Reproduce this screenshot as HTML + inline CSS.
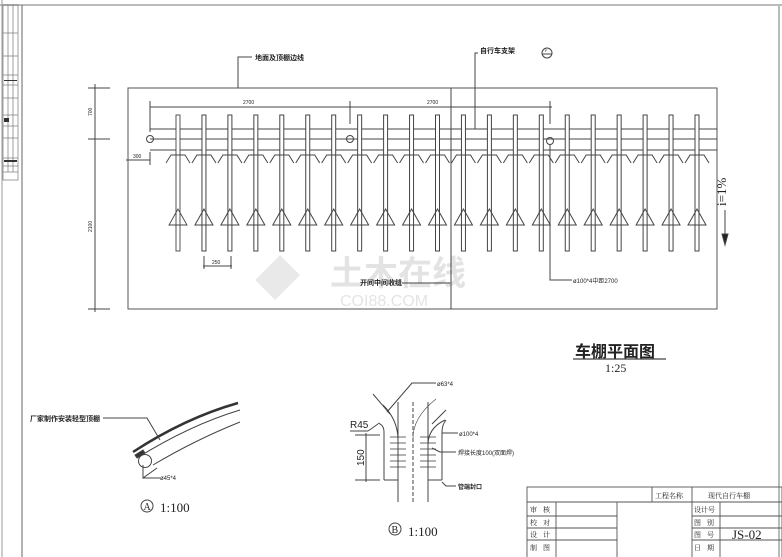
<!DOCTYPE html>
<html><head><meta charset="utf-8"><style>
html,body{margin:0;padding:0;background:#fff}
svg{display:block}
text{font-family:"Liberation Serif","Noto Serif CJK SC","Noto Sans CJK SC",serif;fill:#222}
.s{font-family:"Liberation Sans","Noto Sans CJK SC",sans-serif}
</style></head><body>
<svg width="782" height="557" viewBox="0 0 782 557" xmlns="http://www.w3.org/2000/svg" stroke="#444" stroke-width="1" fill="none">
<!-- outer frame -->
<line x1="0" y1="5" x2="782" y2="5" stroke="#bbb" stroke-width="2"/>
<line x1="22" y1="5" x2="22" y2="557" stroke="#666"/>
<line x1="779" y1="5" x2="779" y2="557" stroke="#bbb" stroke-width="2"/>
<line x1="2" y1="0" x2="2" y2="557" stroke="#999"/>
<!-- left strip -->
<g stroke="#777" stroke-width="0.7">
<rect x="3" y="5" width="15" height="175"/>
<line x1="8" y1="5" x2="8" y2="172"/><line x1="13" y1="5" x2="13" y2="172"/>
<line x1="3" y1="33" x2="18" y2="33"/><line x1="3" y1="56" x2="18" y2="56"/>
<line x1="3" y1="75" x2="18" y2="75"/><line x1="3" y1="85" x2="18" y2="85"/>
<line x1="3" y1="98" x2="18" y2="98"/><line x1="3" y1="115" x2="18" y2="115"/>
<line x1="3" y1="126" x2="18" y2="126"/><line x1="3" y1="138" x2="18" y2="138"/>
<line x1="3" y1="158" x2="18" y2="158"/><line x1="3" y1="166" x2="18" y2="166"/>
<line x1="3" y1="172" x2="18" y2="172"/>
</g>
<g fill="#333" stroke="none"><rect x="4" y="118" width="5" height="4"/><rect x="4" y="160" width="13" height="2"/><rect x="4" y="80" width="13" height="1"/></g>

<!-- plan frame -->
<rect x="128" y="88" width="589" height="221" stroke="#555"/>
<line x1="451" y1="88" x2="451" y2="309"/>
<!-- left dims -->
<line x1="95" y1="84" x2="95" y2="312"/>
<line x1="88" y1="88" x2="110" y2="88"/><line x1="88" y1="139" x2="110" y2="139"/><line x1="88" y1="309" x2="110" y2="309"/>
<text x="92" y="116" font-size="5" transform="rotate(-90 92 116)" class="s" stroke="none">700</text>
<text x="92" y="232" font-size="5" transform="rotate(-90 92 232)" class="s" stroke="none">2100</text>
<!-- 300 dim -->
<line x1="126" y1="160" x2="150" y2="160"/><line x1="150" y1="152" x2="150" y2="165"/>
<text x="133" y="158" font-size="5" class="s" stroke="none">300</text>
<!-- top dim -->
<line x1="150" y1="107" x2="552" y2="107"/>
<line x1="150" y1="101" x2="150" y2="132"/><line x1="350" y1="101" x2="350" y2="124"/><line x1="550" y1="101" x2="550" y2="124"/>
<text x="243" y="104" font-size="5" class="s" stroke="none">2700</text>
<text x="427" y="104" font-size="5" class="s" stroke="none">2700</text>
<!-- rails -->
<line x1="150" y1="129" x2="717" y2="129"/>
<line x1="150" y1="139" x2="717" y2="139"/>
<line x1="150" y1="150" x2="717" y2="150"/>
<circle cx="150" cy="139" r="3.5"/><circle cx="350" cy="139" r="3.5"/><circle cx="550" cy="141" r="3.5"/>
<!-- posts -->
<g id="posts" stroke-width="0.9">
<g id="p">
<rect x="176" y="115" width="4" height="136" fill="#fff"/>
<polyline points="166,163 171,155 185,155 190,163"/>
<polygon points="178,209 169,225 187,225" fill="none"/>
</g>
</g>
<use href="#p" x="25.95"/><use href="#p" x="51.9"/><use href="#p" x="77.85"/><use href="#p" x="103.8"/>
<use href="#p" x="129.75"/><use href="#p" x="155.7"/><use href="#p" x="181.65"/><use href="#p" x="207.6"/>
<use href="#p" x="233.55"/><use href="#p" x="259.5"/><use href="#p" x="285.45"/><use href="#p" x="311.4"/>
<use href="#p" x="337.35"/><use href="#p" x="363.3"/><use href="#p" x="389.25"/><use href="#p" x="415.2"/>
<use href="#p" x="441.15"/><use href="#p" x="467.1"/><use href="#p" x="493.05"/><use href="#p" x="519"/>
<!-- 250 dim -->
<line x1="203" y1="266" x2="232" y2="266"/><line x1="204" y1="256" x2="204" y2="269"/><line x1="231" y1="256" x2="231" y2="269"/>
<text x="212" y="264" font-size="5" class="s" stroke="none">250</text>
<!-- leaders -->
<polyline points="238,88 238,57 252,57"/>
<text x="255" y="60" font-size="7" class="s" stroke="none" font-weight="bold">地面及顶棚边线</text>
<polyline points="475,129 475,53 478,53"/>
<text x="480" y="53" font-size="7" class="s" stroke="none" font-weight="bold">自行车支架</text>
<circle cx="547" cy="53" r="5"/><line x1="542" y1="54" x2="552" y2="54"/>
<text x="545" y="52" font-size="4" class="s" stroke="none">F</text>
<polyline points="402,283 450,283"/>
<text x="360" y="285" font-size="7" class="s" stroke="none" font-weight="bold">开间中间收缝</text>
<polyline points="550,144 550,280 572,280"/>
<text x="573" y="283" font-size="6" class="s" stroke="none">ø100*4中距2700</text>
<!-- i=1% -->
<text x="726" y="206" font-size="13" transform="rotate(-90 726 206)" stroke="none">i=1%</text>
<line x1="725" y1="210" x2="725" y2="240"/>
<polygon points="722,234 728,234 725,245" fill="#222"/>
<!-- watermark -->
<g stroke="none" opacity="0.12" fill="#555">
<polygon points="255,280 280,255 300,275 275,300"/>
<text x="330" y="285" font-size="34" class="s" font-weight="bold" fill="#555">土木在线</text>
<text x="340" y="306" font-size="16" class="s" fill="#555">COI88.COM</text>
</g>
<!-- title -->
<text x="575" y="357" font-size="16" class="s" stroke="none" font-weight="bold">车棚平面图</text>
<line x1="573" y1="359" x2="666" y2="359" stroke-width="1.2"/>
<text x="605" y="372" font-size="12" stroke="none">1:25</text>

<!-- detail A -->
<path d="M133,452 Q185,418 238,403" stroke-width="2.5" stroke="#333"/>
<path d="M137,458 Q190,425 240,410"/>
<path d="M153,465 Q195,440 240,422"/>
<path d="M135,455 l8,-5 l2,3 l-8,5z" fill="#333"/>
<circle cx="145" cy="461" r="6.5"/>
<polyline points="103,418 147,418 160,440"/>
<text x="30" y="421" font-size="7" class="s" stroke="none" font-weight="bold">厂家制作安装轻型顶棚</text>
<polyline points="143,465 143,478 157,468"/><line x1="143" y1="478" x2="160" y2="478"/>
<text x="160" y="480" font-size="6" class="s" stroke="none">ø45*4</text>
<circle cx="147" cy="506" r="6"/><text x="143.5" y="510" font-size="10" stroke="none">A</text>
<text x="160" y="512" font-size="13" stroke="none">1:100</text>

<!-- detail B -->
<line x1="398" y1="402" x2="398" y2="502"/>
<line x1="413" y1="402" x2="413" y2="502" stroke-dasharray="4,2"/>
<line x1="428" y1="402" x2="428" y2="502"/>
<polyline points="373,394 390,414"/><path d="M383,405 Q398,420 398,440"/>
<polyline points="446,410 432,424"/><path d="M445,420 Q428,428 428,445"/>
<path d="M436,399 Q412,418 413,440" stroke-width="0.6"/>
<polyline points="387,412 412,383 436,383"/>
<text x="437" y="386" font-size="6" class="s" stroke="none">ø63*4</text>
<line x1="384" y1="432" x2="384" y2="480"/><line x1="384" y1="480" x2="398" y2="480"/>
<line x1="442" y1="432" x2="442" y2="480"/><line x1="442" y1="480" x2="428" y2="480"/>
<path d="M384,432 Q384,425 378,423"/><path d="M442,432 Q442,425 446,420"/>
<g stroke-width="0.8">
<line x1="390" y1="437" x2="406" y2="437"/><line x1="390" y1="443" x2="406" y2="443"/><line x1="390" y1="449" x2="406" y2="449"/>
<line x1="390" y1="455" x2="406" y2="455"/><line x1="390" y1="461" x2="406" y2="461"/><line x1="390" y1="467" x2="406" y2="467"/>
<line x1="420" y1="437" x2="436" y2="437"/><line x1="420" y1="443" x2="436" y2="443"/><line x1="420" y1="449" x2="436" y2="449"/>
<line x1="420" y1="455" x2="436" y2="455"/><line x1="420" y1="461" x2="436" y2="461"/><line x1="420" y1="467" x2="436" y2="467"/>
</g>
<line x1="442" y1="433" x2="458" y2="433"/>
<text x="459" y="436" font-size="6" class="s" stroke="none">ø100*4</text>
<polyline points="432,448 440,452 456,452"/>
<text x="458" y="455" font-size="6" class="s" stroke="none">焊接长度100(双面焊)</text>
<polyline points="442,482 446,486 456,486"/>
<text x="458" y="489" font-size="6" class="s" stroke="none" font-weight="bold">管端封口</text>
<text x="350" y="428" font-size="10" class="s" stroke="none">R45</text>
<line x1="350" y1="431" x2="368" y2="431"/><line x1="368" y1="431" x2="378" y2="424"/>
<line x1="355" y1="435" x2="380" y2="435"/><line x1="355" y1="480" x2="380" y2="480"/>
<line x1="366" y1="433" x2="366" y2="482"/>
<text x="364" y="466" font-size="10" class="s" stroke="none" transform="rotate(-90 364 466)">150</text>
<circle cx="395" cy="529" r="6"/><text x="391.5" y="533" font-size="10" stroke="none">B</text>
<text x="408" y="536" font-size="13" stroke="none">1:100</text>

<!-- title block -->
<g stroke="#555" stroke-width="0.9">
<rect x="527" y="487" width="255" height="72"/>
<line x1="527" y1="502" x2="782" y2="502"/>
<line x1="527" y1="516" x2="617" y2="516"/><line x1="692" y1="516" x2="782" y2="516"/>
<line x1="527" y1="528" x2="617" y2="528"/><line x1="692" y1="528" x2="782" y2="528"/>
<line x1="527" y1="540" x2="617" y2="540"/><line x1="692" y1="540" x2="782" y2="540"/>
<line x1="556" y1="502" x2="556" y2="557"/><line x1="617" y1="502" x2="617" y2="557"/>
<line x1="652" y1="487" x2="652" y2="502"/>
<line x1="692" y1="487" x2="692" y2="557"/><line x1="720" y1="502" x2="720" y2="557"/>
</g>
<g stroke="none" font-size="7">
<text x="655" y="498">工程名称</text>
<text x="708" y="498">现代自行车棚</text>
<text x="530" y="512" letter-spacing="6">审核</text>
<text x="530" y="525" letter-spacing="6">校对</text>
<text x="530" y="537" letter-spacing="6">设计</text>
<text x="530" y="550" letter-spacing="6">制图</text>
<text x="694" y="512">设计号</text>
<text x="694" y="525" letter-spacing="6">图别</text>
<text x="694" y="537" letter-spacing="6">图号</text>
<text x="694" y="550" letter-spacing="6">日期</text>
<text x="732" y="539" font-size="13">JS-02</text>
</g>
</svg>
</body></html>
